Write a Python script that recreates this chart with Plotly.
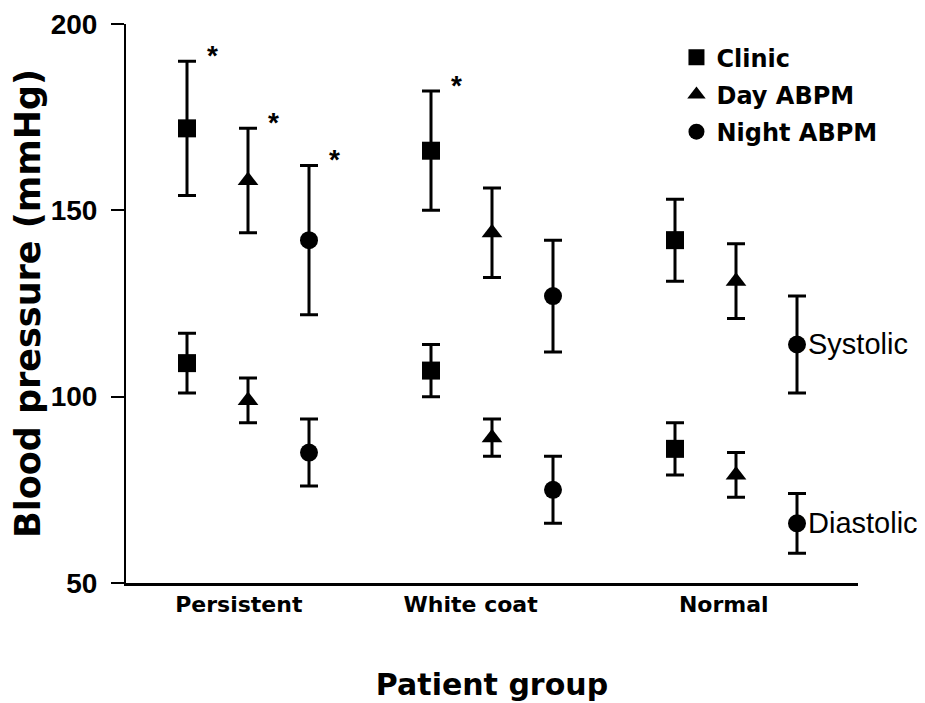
import plotly.graph_objects as go

groups = ["Persistent", "White coat", "Normal"]
series = ["Clinic", "Day ABPM", "Night ABPM"]

# systolic / diastolic means and SDs per series, ordered by group
clinic_sys = [172, 166, 142]
clinic_sys_sd = [18, 16, 11]
clinic_dia = [109, 107, 86]
clinic_dia_sd = [8, 7, 7]

day_sys = [158, 144, 131]
day_sys_sd = [14, 12, 10]
day_dia = [99, 89, 79]
day_dia_sd = [6, 5, 6]

night_sys = [142, 127, 114]
night_sys_sd = [20, 15, 13]
night_dia = [85, 75, 66]
night_dia_sd = [9, 9, 8]

# significance markers (systolic) per series by group
clinic_star = [True, True, False]
day_star = [True, False, False]
night_star = [True, False, False]

# x positions: group offset + series offset
group_pos = [0, 4, 8]
series_offset = [0, 1, 2]
group_label_pos = [0.85, 4.65, 8.8]
y_ticks = [50, 100, 150, 200]

symbols = ["square", "triangle-up", "circle"]

data = [
    (clinic_sys, clinic_sys_sd, clinic_dia, clinic_dia_sd, clinic_star),
    (day_sys, day_sys_sd, day_dia, day_dia_sd, day_star),
    (night_sys, night_sys_sd, night_dia, night_dia_sd, night_star),
]

fig = go.Figure()
annotations = []
for i, (name, sym, (s, ssd, d, dsd, star)) in enumerate(zip(series, symbols, data)):
    xs = [g + series_offset[i] for g in group_pos]
    fig.add_trace(go.Scatter(
        x=xs + xs,
        y=s + d,
        mode="markers",
        name=name,
        legendgroup=name,
        marker=dict(symbol=sym, size=18, color="black"),
        error_y=dict(type="data", array=ssd + dsd, symmetric=True,
                     color="black", thickness=3, width=9),
    ))
    for x, yv, sd, st in zip(xs, s, ssd, star):
        if st:
            annotations.append(dict(
                x=x, y=yv + sd, xref="x", yref="y", text="*", showarrow=False,
                xshift=25, yshift=6,
                font=dict(family="Liberation Sans", size=28, color="black", weight="bold"),
            ))

# Systolic / Diastolic labels next to the last night point
label_font = dict(family="Liberation Sans", size=29, color="black")
annotations.append(dict(x=group_pos[2] + series_offset[2], y=night_sys[2], xref="x", yref="y",
                        text="Systolic", showarrow=False, xanchor="left", xshift=9,
                        font=label_font))
annotations.append(dict(x=group_pos[2] + series_offset[2], y=night_dia[2], xref="x", yref="y",
                        text="Diastolic", showarrow=False, xanchor="left", xshift=9,
                        font=label_font))

fig.update_layout(
    width=925, height=703,
    margin=dict(l=118, r=75, t=16, b=128),
    plot_bgcolor="white", paper_bgcolor="white",
    showlegend=True,
    legend=dict(x=0.752, y=0.98, xanchor="left", yanchor="top",
                font=dict(family="DejaVu Sans", size=24, color="black", weight="bold"),
                bgcolor="rgba(0,0,0,0)", tracegroupgap=3, traceorder="grouped",
                itemwidth=30),
    annotations=annotations,
)

fig.update_xaxes(
    range=[-1, 11], showgrid=False, zeroline=False, automargin=False,
    showline=True, linecolor="black", linewidth=3,
    tickmode="array", tickvals=group_label_pos, ticktext=groups,
    ticks="", tickfont=dict(family="DejaVu Sans", size=22, color="black", weight="bold"),
    title=dict(text="Patient group", standoff=58,
               font=dict(family="DejaVu Sans", size=30, color="black", weight="bold")),
)
fig.update_yaxes(
    range=[50, 200], showgrid=False, zeroline=False, automargin=False,
    showline=True, linecolor="black", linewidth=2,
    tickmode="array", tickvals=y_ticks,
    ticks="outside", ticklen=13, tickwidth=2, tickcolor="black",
    ticklabelstandoff=8,
    tickfont=dict(family="Liberation Sans", size=28, color="black", weight="bold"),
    title=dict(text="Blood pressure (mmHg)", standoff=6,
               font=dict(family="DejaVu Sans", size=35, color="black", weight="bold")),
)

fig.write_html("out.html")
